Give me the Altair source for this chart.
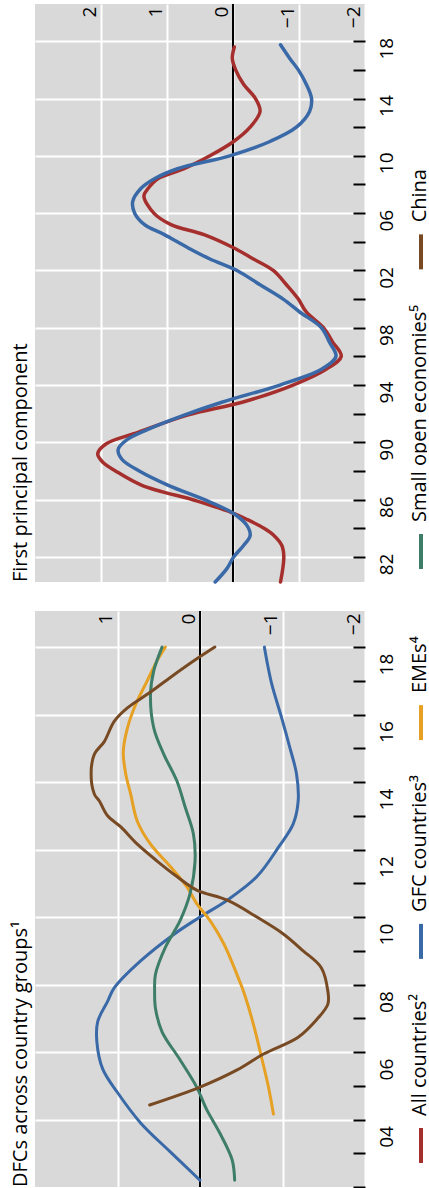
import altair as alt
import pandas as pd

FONT = "Open Sans"
GREY = "#d9d9d9"

SERIES = ["All countries²", "GFC countries³", "EMEs⁴", "Small open economies⁵", "China"]
COLORS = ["#a52f2d", "#3a69a8", "#e6a124", "#3e7e69", "#784a23"]

# ---- First principal component -------------------------------------------
pc_all_years = [1981.25, 1983, 1983.8, 1984.5, 1985, 1985.6, 1986.1, 1986.9, 1988, 1989,
                1989.6, 1990.2, 1990.9, 1991.7, 1992.9, 1993.8, 1995, 1996.1, 1997, 1998,
                1999, 2000.1, 2001, 2002, 2003, 2003.8, 2004.6, 2005.5, 2006.2, 2007,
                2008.2, 2008.7, 2009.4, 2010.1, 2011, 2012, 2013, 2014.1, 2015, 2016,
                2017, 2017.8, 2018.6]
pc_all = [-0.72, -0.77, -0.74, -0.62, -0.47, -0.22, 0.02, 0.54, 1.38, 1.78,
          1.97, 2.05, 1.92, 1.44, 0.69, -0.14, -0.91, -1.41, -1.64, -1.51,
          -1.37, -1.11, -0.99, -0.81, -0.61, -0.31, 0.00, 0.44, 0.94, 1.20,
          1.35, 1.29, 1.14, 0.74, 0.35, -0.01, -0.26, -0.41, -0.34, -0.16,
          -0.04, 0.01, -0.02]

pc_gfc_years = [1981.25, 1982.2, 1983, 1983.8, 1984.5, 1985.2, 1986, 1986.9, 1988, 1989,
                1989.8, 1990.5, 1991.2, 1991.9, 1992.9, 1993.8, 1995, 1996.1, 1997, 1998,
                1999, 2000.1, 2001, 2002, 2003, 2003.8, 2004.6, 2005.5, 2006.2, 2007,
                2007.8, 2008.7, 2009.4, 2010.1, 2011, 2012, 2013, 2014.1, 2015, 2016,
                2017, 2017.8, 2018.75]
pc_gfc = [0.27, 0.09, -0.01, -0.16, -0.26, -0.21, -0.02, 0.38, 0.98, 1.42,
          1.68, 1.74, 1.60, 1.29, 0.74, 0.17, -0.71, -1.34, -1.56, -1.46,
          -1.34, -1.01, -0.76, -0.41, -0.06, 0.35, 0.69, 1.04, 1.34, 1.49,
          1.52, 1.40, 1.19, 0.84, 0.05, -0.56, -0.96, -1.16, -1.19, -1.11,
          -0.99, -0.86, -0.72]

# ---- DFCs across country groups ------------------------------------------
dfc_gfc_years = [2003.2, 2004.04, 2004.9, 2005.8, 2006.5, 2007.3, 2007.9, 2008.5, 2008.9,
                 2009.7, 2010.5, 2011, 2011.5, 2012.2, 2013.1, 2013.76, 2014.44, 2015.24,
                 2016.1, 2016.9, 2017.9, 2018.6, 2019]
dfc_gfc = [0.00, 0.36, 0.72, 1.00, 1.18, 1.25, 1.24, 1.12, 1.04,
           0.72, 0.31, 0.00, -0.33, -0.69, -0.96, -1.13, -1.19, -1.17,
           -1.08, -0.99, -0.87, -0.81, -0.78]

dfc_eme_years = [2005.16, 2005.96, 2006.8, 2007.8, 2008.78, 2009.1, 2010.2, 2010.9, 2011.4,
                 2011.9, 2012.5, 2013.16, 2013.84, 2014.64, 2015.24, 2015.9, 2016.6, 2017.3,
                 2018, 2018.6, 2019]
dfc_eme = [-0.89, -0.83, -0.75, -0.65, -0.53, -0.48, -0.29, -0.12, 0.04,
           0.16, 0.36, 0.60, 0.76, 0.84, 0.90, 0.93, 0.88, 0.78,
           0.64, 0.52, 0.42]

dfc_soe_years = [2003.2, 2003.8, 2004.6, 2005.3, 2005.96, 2006.8, 2007.6, 2008.3, 2008.8,
                 2009.3, 2010.1, 2010.9, 2011.7, 2012.66, 2013.46, 2014.26, 2015.03, 2015.83,
                 2016.6, 2017.6, 2018.3, 2019]
dfc_soe = [-0.42, -0.39, -0.24, -0.08, 0.04, 0.25, 0.46, 0.54, 0.55,
           0.54, 0.42, 0.24, 0.12, 0.06, 0.08, 0.18, 0.28, 0.44,
           0.56, 0.60, 0.56, 0.46]

dfc_chn_years = [2005.43, 2005.96, 2006.47, 2006.94, 2007.44, 2007.95, 2008.42, 2008.8, 2009.5,
                 2010, 2010.5, 2011, 2011.5, 2011.8, 2012.2, 2012.66, 2013.16, 2013.67,
                 2014, 2014.44, 2014.64, 2015.24, 2015.83, 2016.2, 2016.8, 2017.2, 2017.6,
                 2018.1, 2018.6, 2019]
dfc_chn = [0.61, 0.00, -0.45, -0.77, -1.19, -1.41, -1.55, -1.55, -1.47,
           -1.25, -1.01, -0.69, -0.33, 0.04, 0.28, 0.52, 0.76, 0.96,
           1.12, 1.22, 1.28, 1.32, 1.28, 1.16, 1.04, 0.88, 0.64,
           0.36, 0.07, -0.18]

# axis ticks (years at tick marks) and value labels
pc_ticks = list(range(1983, 2020, 2))
dfc_ticks = list(range(2003, 2020))
pc_values = [-2, -1, 0, 1, 2]
dfc_values = [-2, -1, 0, 1]


def long_frame(pairs):
    rows = []
    for name, years, vals in pairs:
        rows += [{"series": name, "year": y, "value": v} for y, v in zip(years, vals)]
    return pd.DataFrame(rows)


pc_df = long_frame([(SERIES[0], pc_all_years, pc_all), (SERIES[1], pc_gfc_years, pc_gfc)])
dfc_df = long_frame([(SERIES[1], dfc_gfc_years, dfc_gfc), (SERIES[2], dfc_eme_years, dfc_eme),
                     (SERIES[3], dfc_soe_years, dfc_soe), (SERIES[4], dfc_chn_years, dfc_chn)])

color_scale = alt.Scale(domain=SERIES, range=COLORS)


def value_axis(values):
    return alt.Axis(
        orient="top", values=values, format="d", title=None, domain=False,
        ticks=False, tickSize=0,
        grid=True, gridColor="white", gridWidth=2,
        labelAngle=270, labelAlign="right", labelBaseline="alphabetic",
        labelPadding=-2, labelOffset=-6, labelFlush=False, labelOverlap=False,
        labelFont=FONT, labelFontSize=19, labelColor="black",
    )


def time_axis(values, grid_test, label_test, half_year_px):
    return alt.Axis(
        orient="right", values=values, title=None, domain=False,
        ticks=True, tickSize=12, tickWidth=2, tickColor="black", offset=-12,
        grid=True, gridColor="white", gridWidth=2,
        gridOpacity={"condition": {"test": grid_test, "value": 1}, "value": 0},
        labelExpr=f"({label_test}) ? slice(toString(datum.value - 1), 2) : ''",
        labelAngle=270, labelAlign="center", labelBaseline="top",
        labelPadding=12, labelOffset=half_year_px, labelFlush=False, labelOverlap=False,
        labelFont=FONT, labelFontSize=19, labelColor="black",
    )


def panel(df, title, x_domain, x_values, y_domain, ticks, grid_test, label_test,
          half_year_px, height, stroke):
    lines = alt.Chart(df).mark_line(
        interpolate="catmull-rom", strokeWidth=stroke, strokeCap="round", strokeJoin="round"
    ).encode(
        x=alt.X("value:Q", scale=alt.Scale(domain=x_domain, reverse=True, nice=False, zero=False),
                axis=value_axis(x_values)),
        y=alt.Y("year:Q", scale=alt.Scale(domain=y_domain, nice=False, zero=False),
                axis=time_axis(ticks, grid_test, label_test, half_year_px)),
        color=alt.Color("series:N", scale=color_scale, legend=None),
        order=alt.Order("year:Q"),
    )
    zero = alt.Chart(pd.DataFrame({"value": [0]})).mark_rule(
        color="black", strokeWidth=2
    ).encode(x="value:Q")
    return alt.layer(zero, lines).properties(
        width=330, height=height,
        view=alt.ViewBackground(fill=GREY, stroke=None),
        title=alt.TitleParams(text=title, orient="left", anchor="start", frame="group",
                              font=FONT, fontSize=20, fontWeight="normal", color="black",
                              offset=4),
    )


top = panel(pc_df, "First principal component", [-2, 3], pc_values, [1981.25, 2021.6],
            pc_ticks, "(datum.value - 1983) % 4 == 0", "(datum.value - 1983) % 4 == 0",
            7, 578, 3.5)
bottom = panel(dfc_df, "DFCs across country groups¹", [-2, 2], dfc_values, [2003, 2020.07],
               dfc_ticks, "datum.value % 2 == 1 && datum.value > 2003",
               "datum.value % 2 == 1 && datum.value >= 2005", 17, 576, 3)

# ---- legend: swatch then rotated label, stacked along the right edge ---------
LEG_FS = 20
LEG_H = 1180
SW_LEN, SW_GAP, ENTRY_GAP = 35, 12, 35

_W = {"a": .556, "b": .613, "c": .48, "d": .613, "e": .561, "f": .336, "g": .548, "h": .614,
      "i": .258, "j": .258, "k": .531, "l": .258, "m": .933, "n": .614, "o": .602, "p": .613,
      "q": .613, "r": .409, "s": .477, "t": .352, "u": .614, "v": .5, "w": .778, "x": .514,
      "y": .5, "z": .469, " ": .26, "A": .633, "C": .632, "E": .556, "F": .521, "G": .728,
      "M": .907, "S": .549, "²": .33, "³": .33, "⁴": .33, "⁵": .33}


def text_width(s, size):
    return sum(_W.get(ch, .6) for ch in s) * size


def legend_rows(names, start):
    rows, pos = [], start
    for name in names:
        rows.append({"series": name, "s0": pos, "s1": pos + SW_LEN, "t0": pos + SW_LEN + SW_GAP})
        pos += SW_LEN + SW_GAP + text_width(name, LEG_FS) + ENTRY_GAP
    return rows


legend_df = pd.DataFrame(legend_rows(SERIES[:3], 21) + legend_rows(SERIES[3:], 615))
leg_y = alt.Scale(domain=[0, LEG_H], nice=False, zero=False)

swatches = alt.Chart(legend_df).mark_rule(strokeWidth=4, clip=True).encode(
    y=alt.Y("s0:Q", scale=leg_y, axis=None),
    y2="s1:Q",
    x=alt.value(18),
    color=alt.Color("series:N", scale=color_scale, legend=None),
)
labels = alt.Chart(legend_df).mark_text(
    angle=270, align="left", baseline="middle", font=FONT, fontSize=LEG_FS,
    color="black", clip=True
).encode(
    y=alt.Y("t0:Q", scale=leg_y, axis=None),
    x=alt.value(17),
    text="series:N",
)
legend = alt.layer(swatches, labels).properties(width=24, height=LEG_H)

chart = alt.hconcat(
    alt.vconcat(top, bottom, spacing=26).resolve_scale(x="independent", y="independent"),
    legend,
    spacing=6,
).resolve_scale(y="independent").properties(
    padding={"left": 10, "top": 3, "right": 0, "bottom": 0}
).configure_view(stroke=None)

chart.save("out.html", embed_options={"renderer": "svg", "actions": False})
